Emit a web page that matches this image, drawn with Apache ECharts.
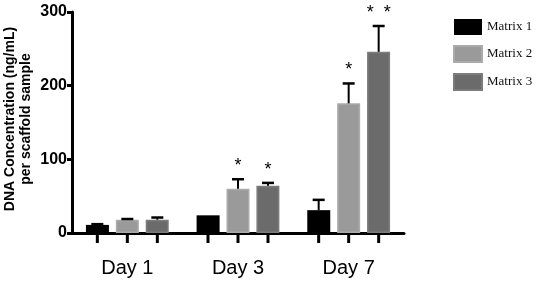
<!DOCTYPE html>
<html lang="en">
<head>
    <meta charset="UTF-8">
    <title>DNA Concentration</title>
    <script src="https://cdn.jsdelivr.net/npm/echarts@6/dist/echarts.min.js"></script>
</head>
<style>
    *{
        margin: 0;
        padding: 0;
    }
    html,body{
        width: 100%;
        height: 100%;
        overflow: hidden;
        background: #fff;
    }
    .container{
        width: 536px;
        height: 290px;
    }
</style>
<body>
<div class="container"></div>
<script>
   // data
   let days = ['Day 1', 'Day 3', 'Day 7'];
   let names = ['Matrix 1', 'Matrix 2', 'Matrix 3'];
   let matrix1 = [11, 24, 31];
   let matrix2 = [18, 60, 176];
   let matrix3 = [18, 64, 246];
   let matrix1Err = [1, 0, 14];
   let matrix2Err = [1, 13, 27];
   let matrix3Err = [3, 4, 35];
   let matrix1Stars = ['', '', ''];
   let matrix2Stars = ['', '*', '*'];
   let matrix3Stars = ['', '*', '*  *'];
   let yTitle = 'DNA Concentration (ng/mL)\nper scaffold sample';

   let values = [matrix1, matrix2, matrix3];
   let errs = [matrix1Err, matrix2Err, matrix3Err];
   let stars = [matrix1Stars, matrix2Stars, matrix3Stars];
   let fills = ['#000000', '#9a9a9a', '#6b6b6b'];
   let borders = ['#000000', '#ababab', '#7c7c7c'];

   let container = document.querySelector('.container');
   let mycharts = echarts.init(container);

   let barW = 23;
   let step = 30;

   let series = [];
   names.forEach((name, i) => {
       series.push({
           name: name,
           type: 'bar',
           data: values[i],
           barWidth: barW,
           barGap: '30%',
           itemStyle: {
               color: fills[i],
               borderColor: borders[i],
               borderWidth: i == 0 ? 0 : 1.5
           }
       });
   });

   names.forEach((name, i) => {
       let offset = (i - 1) * step;
       series.push({
           name: 'err' + i,
           type: 'custom',
           z: 5,
           clip: false,
           data: days.map((d, k) => [k, values[i][k], errs[i][k]]),
           encode: {x: 0, y: 1},
           renderItem: function (params, api) {
               let k = api.value(0);
               let v = api.value(1);
               let e = api.value(2);
               let s = stars[i][k];
               let base = api.coord([k, 0]);
               let x = base[0] + offset;
               let yTop = api.coord([k, v])[1];
               let yErr = api.coord([k, v + e])[1];
               let children = [
                   {
                       type: 'line',
                       shape: {x1: x, y1: base[1] + 1, x2: x, y2: base[1] + 10},
                       style: {stroke: '#000', lineWidth: 3}
                   }
               ];
               if (e > 0) {
                   children.push({
                       type: 'line',
                       shape: {x1: x, y1: yTop, x2: x, y2: yErr},
                       style: {stroke: '#000', lineWidth: 2}
                   });
                   children.push({
                       type: 'line',
                       shape: {x1: x - 6, y1: yErr, x2: x + 6, y2: yErr},
                       style: {stroke: '#000', lineWidth: 2.5}
                   });
               }
               if (s) {
                   children.push({
                       type: 'text',
                       style: {
                           text: s,
                           x: x,
                           y: yErr - 4,
                           align: 'center',
                           verticalAlign: 'bottom',
                           fontSize: 18,
                           fontFamily: 'Liberation Sans',
                           fill: '#000'
                       }
                   });
               }
               return {type: 'group', children: children};
           }
       });
   });

   let options = {
       backgroundColor: '#fff',
       animation: false,
       grid: {
           left: 72,
           right: 132,
           top: 12,
           bottom: 57,
           outerBoundsMode: 'none'
       },
       // rotated y axis title, placed by hand
       graphic: [{
           type: 'text',
           x: 18,
           y: 119,
           rotation: Math.PI / 2,
           style: {
               text: yTitle,
               align: 'center',
               verticalAlign: 'middle',
               fontFamily: 'Liberation Sans',
               fontWeight: 'bold',
               fontSize: 14,
               lineHeight: 16,
               fill: '#000'
           }
       }],
       legend: {
           data: names,
           orient: 'vertical',
           left: 453,
           top: 19,
           padding: 0,
           itemWidth: 28,
           itemHeight: 16,
           itemGap: 10,
           icon: 'rect',
           textStyle: {
               fontFamily: 'Liberation Serif',
               fontSize: 13,
               color: '#111'
           }
       },
       xAxis: {
           type: 'category',
           data: days,
           axisLine: {lineStyle: {color: '#000', width: 3}},
           axisTick: {show: false},
           axisLabel: {
               margin: 25,
               fontSize: 20,
               fontFamily: 'Liberation Sans',
               color: '#000'
           }
       },
       yAxis: {
           type: 'value',
           min: 0,
           max: 300,
           interval: 100,
           splitLine: {show: false},
           axisLine: {show: true, lineStyle: {color: '#000', width: 3}},
           axisTick: {show: true, length: 5, lineStyle: {color: '#000', width: 3}},
           axisLabel: {
               margin: 5,
               fontSize: 16,
               fontWeight: 'bold',
               fontFamily: 'Liberation Sans',
               color: '#000'
           }
       },
       series
   };

   mycharts.setOption(options);
</script>

</body>
</html>
